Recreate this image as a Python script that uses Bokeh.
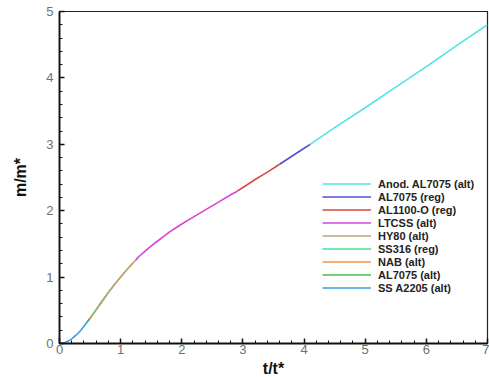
from bokeh.plotting import figure
from bokeh.models import Legend, LegendItem, SingleIntervalTicker, Range1d
from bokeh.embed import file_html
from bokeh.resources import INLINE

# Series (t/t*, m/m*)
ss_a2205_t = [0.0, 0.05, 0.1, 0.15, 0.2, 0.25, 0.3, 0.35, 0.4, 0.45, 0.5]
ss_a2205_m = [0.0, 0.005, 0.02, 0.04, 0.07, 0.11, 0.15, 0.20, 0.26, 0.32, 0.38]

al7075_alt_t = [0.45, 0.5, 0.6, 0.7]
al7075_alt_m = [0.32, 0.38, 0.51, 0.64]

nab_t = [0.5, 0.6, 0.7, 0.8, 0.9, 1.0, 1.1, 1.2]
nab_m = [0.38, 0.51, 0.64, 0.77, 0.89, 1.0, 1.11, 1.21]

ss316_t = [0.55, 0.6, 0.7, 0.8, 0.9]
ss316_m = [0.44, 0.51, 0.64, 0.77, 0.89]

hy80_t = [0.6, 0.7, 0.8, 0.9, 1.0, 1.1, 1.2, 1.27]
hy80_m = [0.51, 0.64, 0.77, 0.89, 1.0, 1.11, 1.21, 1.28]

ltcss_t = [1.25, 1.3, 1.4, 1.5, 1.6, 1.7, 1.8, 1.9, 2.0, 2.2, 2.4, 2.6, 2.8, 2.9]
ltcss_m = [1.26, 1.31, 1.39, 1.47, 1.54, 1.61, 1.68, 1.74, 1.80, 1.91, 2.02, 2.13, 2.24, 2.29]

al1100_t = [2.9, 3.0, 3.2, 3.4, 3.6]
al1100_m = [2.29, 2.35, 2.47, 2.58, 2.70]

al7075_reg_t = [3.6, 3.8, 4.0, 4.1]
al7075_reg_m = [2.70, 2.82, 2.94, 3.0]

anod_t = [4.1, 4.5, 5.0, 5.5, 6.0, 6.5, 7.0]
anod_m = [3.0, 3.25, 3.55, 3.86, 4.17, 4.49, 4.80]

names = ["Anod. AL7075 (alt)", "AL7075 (reg)", "AL1100-O (reg)", "LTCSS (alt)",
         "HY80 (alt)", "SS316 (reg)", "NAB (alt)", "AL7075 (alt)", "SS A2205 (alt)"]
colors = ["#55e3e3", "#4f50d2", "#d84848", "#d844d8", "#b8a878",
          "#44e094", "#f0964a", "#44c044", "#3a9cec"]
ts = [anod_t, al7075_reg_t, al1100_t, ltcss_t, hy80_t, ss316_t, nab_t, al7075_alt_t, ss_a2205_t]
ms = [anod_m, al7075_reg_m, al1100_m, ltcss_m, hy80_m, ss316_m, nab_m, al7075_alt_m, ss_a2205_m]

p = figure(width=489, height=377, output_backend="svg", toolbar_location=None,
           x_range=Range1d(0, 7), y_range=Range1d(0, 5))
p.min_border_left = 59
p.min_border_right = 2
p.min_border_top = 11
p.min_border_bottom = 34
p.frame_width = 428
p.frame_height = 332
p.background_fill_color = "white"
p.border_fill_color = "white"
p.outline_line_color = "#222222"
p.outline_line_width = 1.2
p.grid.visible = False

draw_order = list(range(len(names)))[::-1]
renderers = {}
for i in draw_order:
    r = p.line(ts[i], ms[i], line_color=colors[i], line_width=1.6)
    renderers[i] = r

items = [LegendItem(label=names[i], renderers=[renderers[i]]) for i in range(len(names))]
legend = Legend(items=items, location=(263, 49))
legend.border_line_color = None
legend.background_fill_alpha = 0
legend.padding = 0
legend.margin = 0
legend.spacing = 0
legend.glyph_width = 49
legend.glyph_height = 13
legend.label_height = 13
legend.label_standoff = 7
legend.label_text_font = "Liberation Sans"
legend.label_text_font_style = "bold"
legend.label_text_font_size = "11px"
legend.label_text_color = "#222222"
p.add_layout(legend, "center")

for ax in (p.xaxis[0], p.yaxis[0]):
    ax.ticker = SingleIntervalTicker(interval=1, num_minor_ticks=5)
    ax.major_tick_in = 5
    ax.major_tick_out = 0
    ax.minor_tick_in = 3
    ax.minor_tick_out = 0
    ax.axis_line_color = "#111111"
    ax.axis_line_width = 1.8
    ax.major_tick_line_color = "#111111"
    ax.major_tick_line_width = 1.5
    ax.minor_tick_line_color = "#111111"
    ax.minor_tick_line_width = 1
    ax.major_label_text_font = "Liberation Sans"
    ax.major_label_text_font_size = "13px"
    ax.major_label_text_color = "#707070"
    ax.axis_label_text_font = "Liberation Sans"
    ax.axis_label_text_font_style = "bold"
    ax.axis_label_text_font_size = "16px"
    ax.axis_label_text_color = "#111111"

p.xaxis[0].axis_label = "t/t*"
p.yaxis[0].axis_label = "m/m*"
p.xaxis[0].major_label_standoff = 1
p.yaxis[0].major_label_standoff = 6
p.xaxis[0].axis_label_standoff = 3
p.yaxis[0].axis_label_standoff = 14

open("out.html", "w").write(file_html(p, INLINE))
